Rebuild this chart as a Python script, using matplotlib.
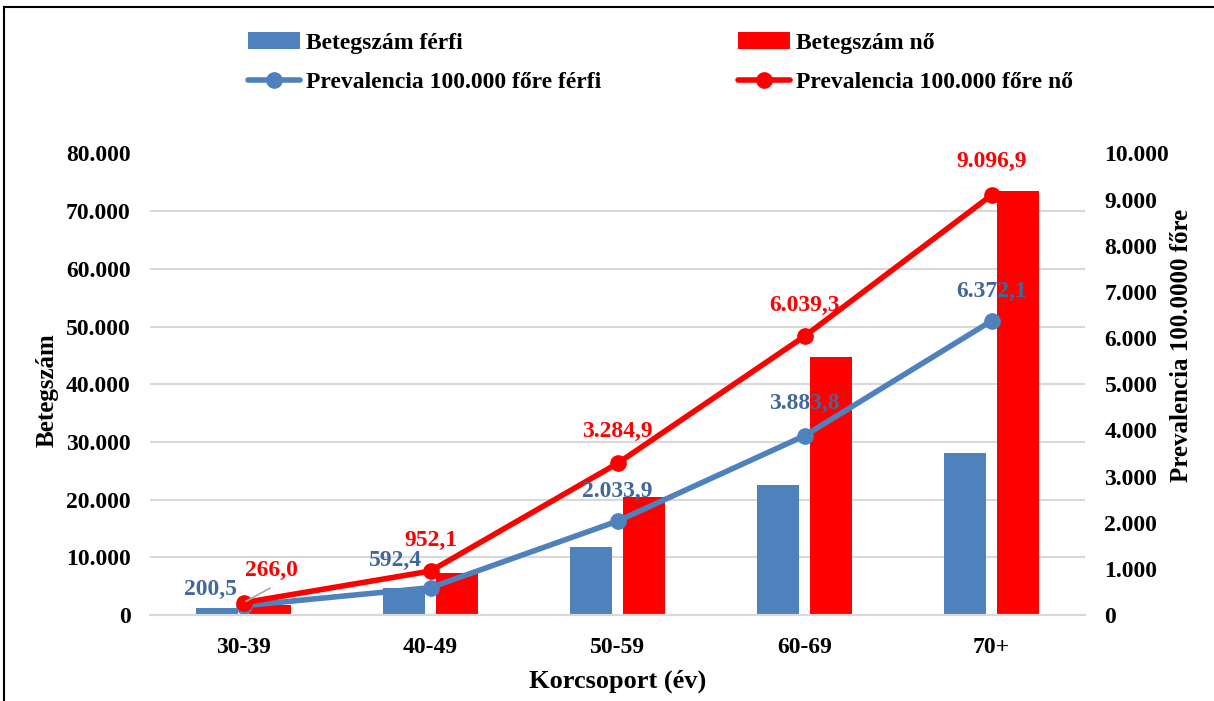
import matplotlib.pyplot as plt
from matplotlib.lines import Line2D
import numpy as np

# Data
korcsoport = ['30-39', '40-49', '50-59', '60-69', '70+']
beteg_ferfi = [1300, 4600, 11800, 22600, 28100]
beteg_no = [1700, 7200, 20500, 44700, 73500]
prev_ferfi = [200.5, 592.4, 2033.9, 3883.8, 6372.1]
prev_no = [266.0, 952.1, 3284.9, 6039.3, 9096.9]

# label offsets in pixels (dx, dy) relative to the marker
off_ferfi = [(-33, 16), (-35, 27), (0, 30), (0, 32), (0, 29)]
off_no = [(28, 32), (0, 31), (0, 32), (0, 31), (0, 34)]

BLUE = '#4F81BD'
RED = '#FF0000'
BLUE_TXT = '#41689C'
GRID = '#D9D9D9'

plt.rcParams['font.family'] = ['Liberation Serif', 'DejaVu Serif']
plt.rcParams['font.weight'] = 'bold'


def hu_fmt(v, dec=0):
    s = f"{v:,.{dec}f}"
    return s.replace(',', ' ').replace('.', ',').replace(' ', '.')


fig = plt.figure(figsize=(12.14, 7.01), dpi=100)
ax = fig.add_axes([150 / 1214, 1 - 615 / 701, 935 / 1214, 461.5 / 701])
ax2 = ax.twinx()

x = np.arange(len(korcsoport))
w = 0.222
off = 0.142
b1 = ax.bar(x - off, beteg_ferfi, w, color=BLUE, zorder=2)
b2 = ax.bar(x + off, beteg_no, w, color=RED, zorder=2)

ax.set_xlim(-0.5, 4.5)
ax.set_ylim(0, 80000)
ax.set_yticks(np.arange(0, 80001, 10000))
ax.set_yticklabels([hu_fmt(v) for v in np.arange(0, 80001, 10000)])
ax.set_xticks(x)
ax.set_xticklabels(korcsoport)
ax.grid(axis='y', color=GRID, linewidth=1.5, zorder=0)
ax.set_axisbelow(True)

ax2.set_ylim(0, 10000)
ax2.set_yticks(np.arange(0, 10001, 1000))
ax2.set_yticklabels([hu_fmt(v) for v in np.arange(0, 10001, 1000)])

l1, = ax2.plot(x, prev_ferfi, color=BLUE, linewidth=4, marker='o',
               markersize=11, solid_capstyle='round')
l2, = ax2.plot(x, prev_no, color=RED, linewidth=4, marker='o',
               markersize=11, solid_capstyle='round')

for a in (ax, ax2):
    for s in ('top', 'left', 'right'):
        a.spines[s].set_visible(False)
    a.spines['bottom'].set_color(GRID)
    a.spines['bottom'].set_linewidth(1.5)
ax.tick_params(axis='y', length=0, pad=14, labelsize=17)
ax.tick_params(axis='x', length=0, pad=16, labelsize=17)
ax2.tick_params(axis='y', length=0, pad=14, labelsize=17)

for i, v in enumerate(prev_ferfi):
    ax2.annotate(hu_fmt(v, 1), (x[i], v), xytext=off_ferfi[i],
                 textcoords='offset pixels', ha='center', va='center',
                 color=BLUE_TXT, fontsize=17, fontweight='bold')
for i, v in enumerate(prev_no):
    ax2.annotate(hu_fmt(v, 1), (x[i], v), xytext=off_no[i],
                 textcoords='offset pixels', ha='center', va='center',
                 color=RED, fontsize=17, fontweight='bold')

# small leader line for the first female label
ax2.annotate('', xy=(x[0], prev_no[0]), xytext=(29, 16),
             textcoords='offset pixels',
             arrowprops=dict(arrowstyle='-', color='#A6A6A6', lw=1.2))

fig.text(47 / 1214, 1 - 390 / 701, 'Betegszám', rotation=90,
         ha='center', va='center', fontsize=18, fontweight='bold')
fig.text(1181 / 1214, 1 - 345 / 701, 'Prevalencia 100.0000 főre', rotation=90,
         ha='center', va='center', fontsize=18, fontweight='bold')
fig.text(618 / 1214, 1 - 681 / 701, 'Korcsoport (év)',
         ha='center', va='center', fontsize=19, fontweight='bold')

fig.legend([b1, l1, b2, l2],
           ['Betegszám férfi', 'Prevalencia 100.000 főre férfi',
            'Betegszám nő', 'Prevalencia 100.000 főre nő'],
           ncol=2, loc='upper left', bbox_to_anchor=(248 / 1214, 1 - 32 / 701),
           frameon=False, fontsize=17, handlelength=2.2, handletextpad=0.25,
           columnspacing=5.8, labelspacing=0.78, borderpad=0, borderaxespad=0)

# outer frame (left and top edges visible in the crop)
fig.add_artist(Line2D([4 / 1214, 4 / 1214], [0, 1 - 7 / 701], color='black',
                      linewidth=1.5, transform=fig.transFigure))
fig.add_artist(Line2D([4 / 1214, 1], [1 - 7 / 701, 1 - 7 / 701], color='black',
                      linewidth=1.5, transform=fig.transFigure))

fig.savefig('out.png', dpi=100, facecolor='white')
